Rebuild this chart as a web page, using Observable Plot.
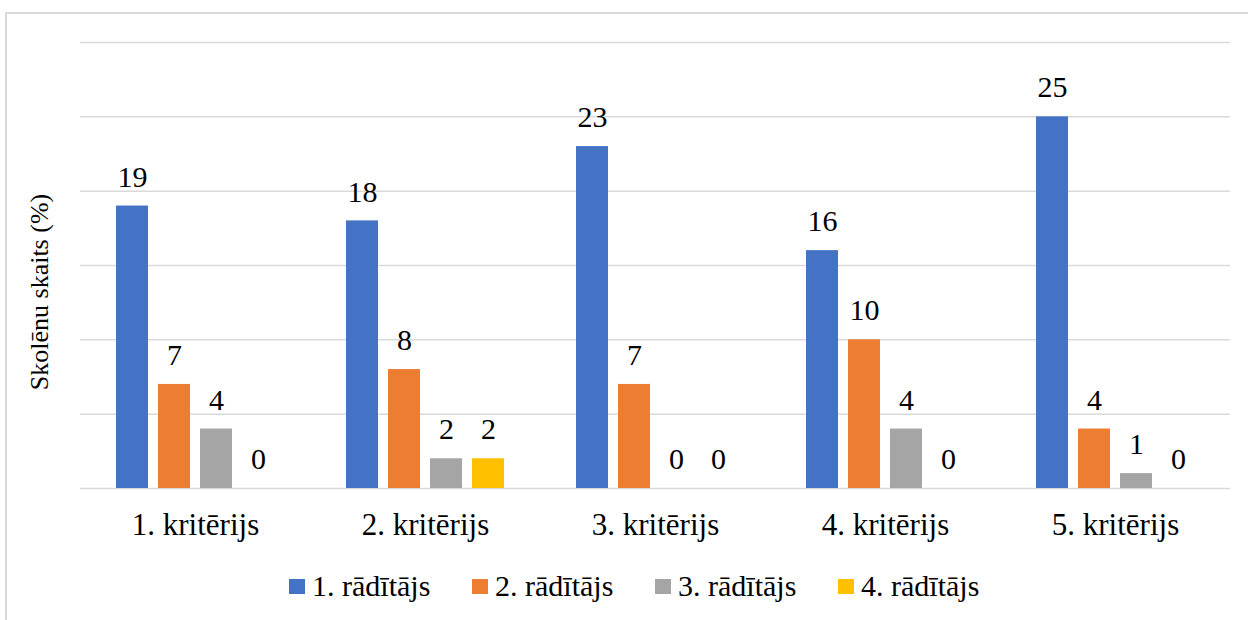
<!DOCTYPE html>
<html><head><meta charset="utf-8">
<script src="https://cdn.jsdelivr.net/npm/d3@7"></script>
<script src="https://cdn.jsdelivr.net/npm/@observablehq/plot@0.6"></script>
<style>
body{margin:0;background:#fff;font-family:"Liberation Serif","Tinos","Times New Roman","DejaVu Serif",serif;}
#wrap{position:relative;width:1248px;height:620px;overflow:hidden;background:#fff;}
#frame{position:absolute;left:5px;top:12px;width:1300px;height:700px;border:2px solid #d9d9d9;box-sizing:border-box;}
#chart{position:absolute;left:0;top:0;}
#ylabel{position:absolute;left:40px;top:292px;transform:translate(-50%,-50%) rotate(-90deg);font-size:26px;line-height:30px;white-space:nowrap;color:#000;}
#legend{position:absolute;top:568px;left:289px;display:flex;font-size:30px;line-height:36px;color:#000;white-space:nowrap;}
#legend .item{display:flex;align-items:center;width:183px;}
#legend .item:last-child{width:auto;}
#legend .sw{width:16px;height:15px;margin-right:7px;flex:none;}
</style>
</head><body>
<div id="wrap"><div id="frame"></div><div id="chart"></div><div id="ylabel"></div><div id="legend"></div></div>
<script>
const categories = ["1. kritērijs", "2. kritērijs", "3. kritērijs", "4. kritērijs", "5. kritērijs"];
const series = ["1. rādītājs", "2. rādītājs", "3. rādītājs", "4. rādītājs"];
const values1 = [19, 18, 23, 16, 25];
const values2 = [7, 8, 7, 10, 4];
const values3 = [4, 2, 0, 4, 1];
const values4 = [0, 2, 0, 0, 0];
const yTicks = [0, 5, 10, 15, 20, 25, 30];
const colors = ["#4472C4", "#ED7D31", "#A5A5A5", "#FFC000"];
const yLabel = "Skolēnu skaits (%)";

const allValues = [values1, values2, values3, values4];
const rows = [];
categories.forEach((c, i) => {
  series.forEach((s, j) => rows.push({category: c, series: s, value: allValues[j][i]}));
});

const font = "'Liberation Serif', 'Tinos', 'Times New Roman', 'DejaVu Serif', serif";
const chart = Plot.plot({
  width: 1248, height: 560,
  marginTop: 42, marginBottom: 72, marginLeft: 80, marginRight: 18,
  style: {fontFamily: font, fontSize: "30px", color: "#000", background: "transparent"},
  fx: {domain: categories, padding: 0, label: null},
  x: {domain: series, paddingInner: 0.238, paddingOuter: 0.857, axis: null},
  y: {domain: [0, 30], axis: null},
  color: {domain: series, range: colors},
  marks: [
    Plot.gridY(yTicks, {stroke: "#d9d9d9", strokeOpacity: 1, strokeWidth: 1.5}),
    Plot.barY(rows, {fx: "category", x: "series", y: "value", fill: "series"}),
    Plot.text(rows, {fx: "category", x: "series", y: "value", text: d => String(d.value), dy: -29, fontSize: 30, fill: "#000"}),
    Plot.axisFx({anchor: "bottom", tickSize: 0, tickPadding: 24, fontSize: 31, label: null})
  ]
});
document.getElementById("chart").appendChild(chart);
document.getElementById("ylabel").textContent = yLabel;

const legend = document.getElementById("legend");
series.forEach((s, i) => {
  const item = document.createElement("div");
  item.className = "item";
  const sw = document.createElement("span");
  sw.className = "sw";
  sw.style.background = colors[i];
  const t = document.createElement("span");
  t.textContent = s;
  item.appendChild(sw); item.appendChild(t);
  legend.appendChild(item);
});
</script>
</body></html>
